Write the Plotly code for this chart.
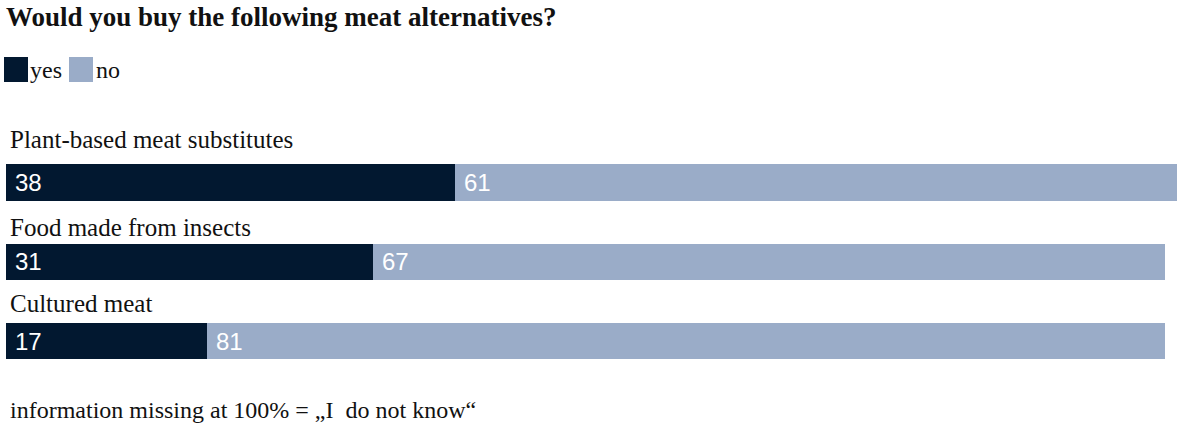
import plotly.graph_objects as go

# ---- data ----
categories = ["Plant-based meat substitutes", "Food made from insects", "Cultured meat"]
yes_values = [38, 31, 17]
no_values = [61, 67, 81]
series_names = ["yes", "no"]
title_text = "Would you buy the following meat alternatives?"
footer_text = "information missing at 100% = „I  do not know“"

# ---- style ----
W, H = 1178, 434
YES_COLOR = "#021830"
NO_COLOR = "#9aacc8"
SERIF = "Liberation Serif, Times New Roman, serif"
SANS = "Liberation Sans, Arial, sans-serif"

def py(p):  # pixel from top -> paper y
    return 1 - p / H

def px(p):  # pixel from left -> paper x
    return p / W

idx = list(range(len(categories)))

fig = go.Figure()
fig.add_trace(go.Bar(
    y=idx, x=yes_values, orientation="h", name=series_names[0],
    marker=dict(color=YES_COLOR, line=dict(width=0)), width=0.455,
    showlegend=False, hoverinfo="x+name",
))
fig.add_trace(go.Bar(
    y=idx, x=no_values, base=yes_values, orientation="h", name=series_names[1],
    marker=dict(color=NO_COLOR, line=dict(width=0)), width=0.455,
    showlegend=False, hoverinfo="x+name",
))

annotations = []
# value labels inside segments
for i, (yv, nv) in enumerate(zip(yes_values, no_values)):
    annotations.append(dict(x=0, y=i, xref="x", yref="y", text=str(yv), showarrow=False,
                            xanchor="left", yanchor="middle", xshift=7,
                            font=dict(family=SANS, size=24, color="white")))
    annotations.append(dict(x=yv, y=i, xref="x", yref="y", text=str(nv), showarrow=False,
                            xanchor="left", yanchor="middle", xshift=7,
                            font=dict(family=SANS, size=24, color="white")))

# category labels above bars
label_shift = [43, 34, 38]
for i, c in enumerate(categories):
    annotations.append(dict(x=0, y=i, xref="x", yref="y", text=c, showarrow=False,
                            xanchor="left", yanchor="middle", xshift=2, yshift=label_shift[i],
                            font=dict(family=SERIF, size=25, color="#111111")))

# title
annotations.append(dict(x=px(4), y=py(17), xref="paper", yref="paper", text=f"<b>{title_text}</b>",
                        showarrow=False, xanchor="left", yanchor="middle",
                        font=dict(family=SERIF, size=27, color="#111111")))
# legend
shapes = [
    dict(type="rect", xref="paper", yref="paper", x0=px(4), x1=px(28), y0=py(82), y1=py(57),
         fillcolor=YES_COLOR, line=dict(width=0)),
    dict(type="rect", xref="paper", yref="paper", x0=px(69), x1=px(93), y0=py(82), y1=py(57),
         fillcolor=NO_COLOR, line=dict(width=0)),
]
annotations.append(dict(x=px(28), y=py(70), xref="paper", yref="paper", text=series_names[0],
                        showarrow=False, xanchor="left", yanchor="middle",
                        font=dict(family=SERIF, size=24, color="#111111")))
annotations.append(dict(x=px(94), y=py(70), xref="paper", yref="paper", text=series_names[1],
                        showarrow=False, xanchor="left", yanchor="middle",
                        font=dict(family=SERIF, size=24, color="#111111")))
# footer
annotations.append(dict(x=px(8), y=py(410), xref="paper", yref="paper", text=footer_text,
                        showarrow=False, xanchor="left", yanchor="middle",
                        font=dict(family=SERIF, size=24, color="#111111")))

scale = (1177 - 6) / 99.0
fig.update_layout(
    width=W, height=H,
    margin=dict(l=0, r=0, t=0, b=0),
    paper_bgcolor="white", plot_bgcolor="white",
    barmode="overlay", bargap=0,
    xaxis=dict(range=[-6 / scale, 99 + 1 / scale], visible=False, fixedrange=True),
    yaxis=dict(range=[(H - 182.5) / 79.25, -182.5 / 79.25], visible=False, fixedrange=True),
    annotations=annotations, shapes=shapes,
    showlegend=False,
)

fig.write_html("out.html", config={"displayModeBar": False},
               post_script="document.body.style.margin='0';")
